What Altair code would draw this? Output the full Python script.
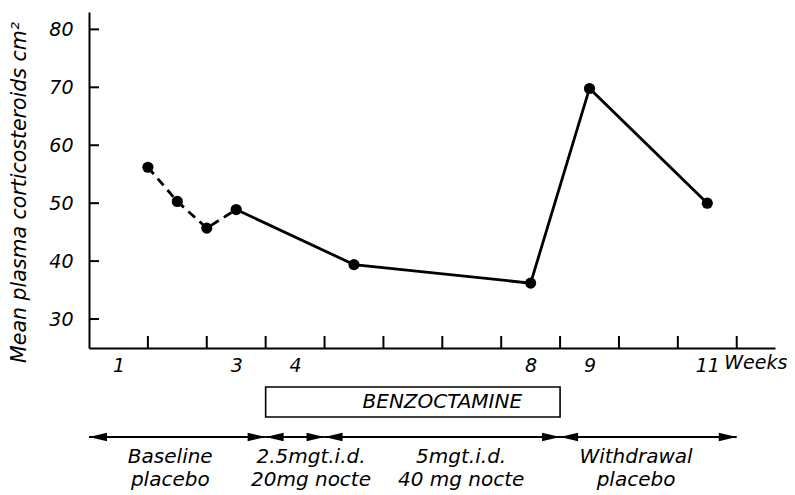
import altair as alt
import pandas as pd

# ---------------- data ----------------
weeks = [1.0, 1.5, 2.0, 2.5, 4.5, 7.5, 8.5, 10.5]
corticosteroids = [56.2, 50.3, 45.7, 48.9, 39.4, 36.2, 69.8, 50.0]
dashed_points = 4  # the first four points are joined by a dashed line

y_ticks = [30, 40, 50, 60, 70, 80]
x_tick_weeks = list(range(1, 12))
x_labelled_weeks = [1, 3, 4, 8, 9, 11]

phase_start = [0, 3, 4, 8]
phase_end = [3, 4, 8, 11]
phase_line1 = ["Baseline", "2.5mgt.i.d.", "5mgt.i.d.", "Withdrawal"]
phase_line2 = ["placebo", "20mg nocte", "40 mg nocte", "placebo"]
phase_label_x = [1.38, 3.77, 6.32, 9.29]

drug_start = [3]
drug_end = [8]
drug_name = ["BENZOCTAMINE"]
drug_label_x = [6.0]

# ---------------- tables ----------------
df = pd.DataFrame({"week": weeks, "value": corticosteroids})
df_dash = df.iloc[:dashed_points]
df_solid = df.iloc[dashed_points - 1:]
ticks_x = pd.DataFrame({"w": x_tick_weeks})
ticks_y = pd.DataFrame({"v": y_ticks})
phases = pd.DataFrame({"s": phase_start, "e": phase_end, "l1": phase_line1,
                       "l2": phase_line2, "lx": phase_label_x})
drug = pd.DataFrame({"s": drug_start, "e": drug_end, "name": drug_name, "lx": drug_label_x})
weeks_word = pd.DataFrame({"w": [x_labelled_weeks[-1] - 0.5], "t": ["Weeks"]})

FONT = "DejaVu Sans"
xs = alt.Scale(domain=[0, 11.65], nice=False, zero=False)
ys = alt.Scale(domain=[25, 83], nice=False, zero=False)

x_axis = alt.Axis(values=[w - 0.5 for w in x_labelled_weeks], labelExpr="datum.value + 0.5",
                  ticks=False, tickSize=0, grid=False, domainColor="black", domainWidth=2,
                  labelFontSize=19, labelFontStyle="italic", labelPadding=8, labelColor="black",
                  labelFont=FONT, title=None, labelFlush=False, labelOverlap=False)
y_axis = alt.Axis(values=y_ticks, ticks=False, tickSize=0, grid=False, domainColor="black",
                  domainWidth=2, labelFontSize=19, labelFontStyle="italic", labelPadding=16,
                  labelColor="black", labelFont=FONT, labelFlush=False, labelOverlap=False,
                  title="Mean plasma corticosteroids cm²", titleFontSize=20.5,
                  titleFontStyle="italic", titleFontWeight="normal", titleFont=FONT,
                  titleColor="black", titleX=-70, titleY=180, titleAlign="center",
                  titleBaseline="middle")

solid = alt.Chart(df_solid).mark_line(color="black", strokeWidth=2.8).encode(
    x=alt.X("week:Q", scale=xs, axis=x_axis),
    y=alt.Y("value:Q", scale=ys, axis=y_axis),
)
dashed = alt.Chart(df_dash).mark_line(color="black", strokeWidth=2.8, strokeDash=[9, 6]).encode(
    x=alt.X("week:Q", scale=xs), y=alt.Y("value:Q", scale=ys))
points = alt.Chart(df).mark_point(filled=True, color="black", opacity=1, size=125).encode(
    x=alt.X("week:Q", scale=xs), y=alt.Y("value:Q", scale=ys))

xt = alt.Chart(ticks_x).mark_rule(color="black", strokeWidth=2).encode(
    x=alt.X("w:Q", scale=xs), y=alt.value(336), y2=alt.value(324))
yt = alt.Chart(ticks_y).mark_rule(color="black", strokeWidth=2).encode(
    y=alt.Y("v:Q", scale=ys), x=alt.value(0), x2=alt.value(10))

weeks_txt = alt.Chart(weeks_word).mark_text(
    align="left", baseline="middle", dx=17, fontSize=19, fontStyle="italic", font=FONT,
    color="black").encode(x=alt.X("w:Q", scale=xs), y=alt.value(351), text="t:N")

box = alt.Chart(drug).mark_rect(fill="white", stroke="black", strokeWidth=1.6).encode(
    x=alt.X("s:Q", scale=xs), x2="e:Q", y=alt.value(375), y2=alt.value(405))
box_txt = alt.Chart(drug).mark_text(
    fontSize=20, fontStyle="italic", font=FONT, color="black", baseline="middle").encode(
    x=alt.X("lx:Q", scale=xs), y=alt.value(390), text="name:N")

LEFT_HEAD = "M0,0L1,-0.24L1,0.24Z"
RIGHT_HEAD = "M0,0L-1,-0.24L-1,0.24Z"
arrow_line = alt.Chart(phases).mark_rule(color="black", strokeWidth=2).encode(
    x=alt.X("s:Q", scale=xs), x2="e:Q", y=alt.value(425))
head_l = alt.Chart(phases).mark_point(shape=LEFT_HEAD, size=1296, filled=True, color="black",
                                      opacity=1, strokeWidth=0).encode(
    x=alt.X("s:Q", scale=xs), y=alt.value(425))
head_r = alt.Chart(phases).mark_point(shape=RIGHT_HEAD, size=1296, filled=True, color="black",
                                      opacity=1, strokeWidth=0).encode(
    x=alt.X("e:Q", scale=xs), y=alt.value(425))
lab1 = alt.Chart(phases).mark_text(fontSize=20, fontStyle="italic", font=FONT, color="black",
                                   baseline="middle").encode(
    x=alt.X("lx:Q", scale=xs), y=alt.value(445), text="l1:N")
lab2 = alt.Chart(phases).mark_text(fontSize=20, fontStyle="italic", font=FONT, color="black",
                                   baseline="middle").encode(
    x=alt.X("lx:Q", scale=xs), y=alt.value(468), text="l2:N")

chart = alt.layer(
    solid, dashed, points, xt, yt, weeks_txt, box, box_txt,
    arrow_line, head_l, head_r, lab1, lab2
).properties(
    width=686, height=336,
    autosize=alt.AutoSizeParams(type="none"),
    padding={"left": 81, "top": 4, "right": 12, "bottom": 145},
    background="white",
).configure_view(stroke=None)

chart.save("out.html", embed_options={"renderer": "svg", "actions": False})
